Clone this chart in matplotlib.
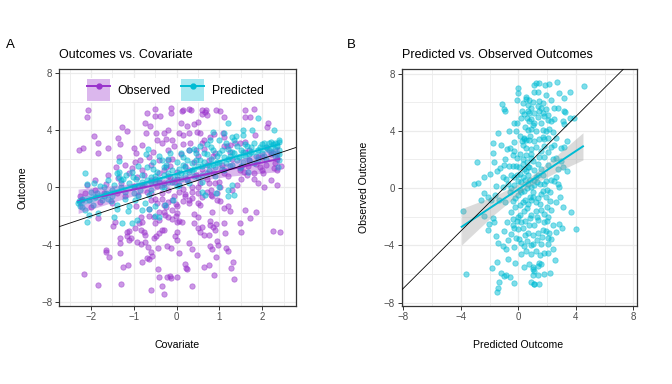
import matplotlib.pyplot as plt
import matplotlib.ticker as ticker
import numpy as np
from matplotlib.lines import Line2D
from matplotlib.patches import Patch
from matplotlib.legend_handler import HandlerTuple

plt.rcParams['font.family'] = ['Liberation Sans', 'DejaVu Sans']

OBS_COL = '#9932CC'
PRED_COL = '#00BCD4'

# ---- panel A: observed outcome vs covariate
obs_pts = [
    (-2.07, 5.42), (-2.09, 4.91), (-0.69, 5.19), (-0.51, 4.96), (-0.38, 5.0), (-0.14, 5.54), (-0.12, 5.19),
    (-0.74, 4.53), (-0.63, 4.30), (-1.27, 4.21), (-1.15, 3.93), (-0.72, 3.79), (-0.48, 3.83), (-0.30, 3.80),
    (-0.20, 4.00), (-1.93, 3.60), (-1.83, 3.09), (-1.36, 3.44), (-1.32, 3.04), (-1.60, 2.74), (-1.83, 2.39),
    (-2.27, 2.62), (-2.18, 2.74), (-1.00, 2.74), (-0.80, 2.97), (-0.94, 2.39), (-1.35, 2.15), (-0.97, 1.80),
    (-1.41, 1.40), (-1.04, 1.33), (-0.93, 0.70), (-1.36, 0.63), (-1.66, 0.23), (-0.45, 3.30), (-0.35, 3.10),
    (-0.25, 3.40), (-0.10, 3.30), (-0.05, 2.90), (-0.20, 2.60), (-0.55, 2.50), (-0.60, 1.60), (-0.40, 1.90),
    (-0.30, 1.20), (-0.15, 1.50), (-0.75, 0.90), (-0.50, 0.60), (-0.20, 0.80), (-0.05, 0.40),
    (-0.50, 5.45), (0.14, 5.42), (0.28, 5.45), (0.60, 5.40), (0.68, 5.44), (1.61, 5.42), (1.81, 5.45),
    (0.12, 5.31), (0.33, 5.38), (0.59, 5.14), (0.66, 5.24), (0.71, 5.07), (0.93, 5.38), (1.02, 5.31),
    (1.11, 4.91), (1.59, 4.91), (1.71, 4.91), (0.10, 4.49), (0.24, 4.30), (0.40, 4.44), (0.51, 4.60),
    (2.13, 4.53), (2.11, 4.21), (0.05, 3.79), (0.16, 3.67), (0.30, 3.79), (0.47, 3.90), (0.55, 3.79),
    (0.88, 3.74), (0.79, 3.55), (1.09, 3.79), (1.10, 3.55), (1.84, 3.67), (0.32, 3.13), (0.59, 3.13),
    (0.63, 3.32), (1.18, 2.90), (1.25, 2.97), (1.37, 3.09), (1.49, 3.13), (1.60, 3.20), (2.11, 2.74),
    (1.68, 1.50), (1.85, 1.65), (1.95, 1.40), (1.49, 1.21), (1.57, 1.09), (1.64, 0.87), (1.80, 0.98),
    (2.03, 0.98), (2.27, 1.33), (2.34, 1.21), (2.45, 1.50), (2.05, 0.00), (2.34, 0.16), (0.75, 0.28),
    (1.02, 0.04),
    (-2.13, -0.40), (-1.83, -2.15), (-1.49, -2.67), (-1.43, -2.39), (-1.15, -3.09), (-1.11, -3.05),
    (-1.07, -3.56), (-1.15, -3.40), (-1.10, -3.70), (-1.31, -3.56), (-1.32, -3.91), (-1.64, -4.38),
    (-1.66, -4.49), (-1.58, -4.84), (-1.31, -4.56), (-1.25, -5.54), (-1.13, -5.43), (-2.16, -6.08),
    (-1.83, -6.83), (-1.29, -6.72), (-0.80, -5.24), (-0.69, -4.91), (-0.65, -5.01), (-0.57, -4.77),
    (-0.43, -5.73), (-0.41, -6.25), (-0.59, -7.14), (-0.34, -6.88), (-0.30, -7.42), (-0.22, -6.25),
    (-0.15, -6.20), (-0.12, -6.30), (-0.92, -3.79), (-0.82, -3.98), (-0.74, -3.84), (-0.66, -4.14),
    (-0.60, -4.50), (-0.43, -4.21), (-0.22, -4.07), (-0.14, -4.20), (0.00, -3.70), (-0.04, -3.40),
    (-0.53, -3.56), (-0.49, -3.37), (-0.41, -3.21), (-0.34, -2.98), (-0.30, -2.98), (-0.96, -2.86),
    (-0.84, -2.98), (-0.76, -3.09), (-0.74, -3.33), (-0.84, -2.04), (-0.80, -2.39), (-0.88, -2.51),
    (-0.65, -2.00), (-0.52, -2.10), (-0.50, -2.50), (-0.40, -2.30), (-0.28, -1.90), (-0.20, -2.10),
    (-0.10, -2.20), (0.00, -2.40), (-0.02, -2.00), (-0.40, -1.70), (-0.30, -1.70), (-0.25, -1.40),
    (-0.10, -1.60), (0.00, -1.80), (-0.60, -0.90), (-0.45, -1.10), (-0.35, -0.80), (-0.20, -1.00),
    (-0.10, -0.85), (-0.02, -1.15),
    (0.16, -0.98), (0.28, -0.87), (0.36, -0.75), (0.51, -1.10), (0.54, -1.22), (0.05, -0.35),
    (0.20, -0.45), (0.36, -0.30), (0.50, -0.40), (0.70, -0.35), (0.80, -0.50), (0.94, -0.40),
    (0.82, -0.63), (0.94, -0.87), (1.02, -0.98), (1.10, -1.45), (1.21, -1.33), (1.24, -1.64),
    (1.60, -1.61), (1.86, -1.75), (0.41, -1.87), (0.51, -2.04), (0.83, -1.75), (1.71, -2.15),
    (1.47, -2.46), (1.51, -3.14), (1.11, -2.46), (1.14, -3.21), (0.05, -2.32), (0.12, -2.39),
    (0.40, -2.51), (0.79, -2.32), (0.79, -2.62), (0.86, -2.74), (0.90, -2.98), (0.93, -2.58),
    (0.01, -3.09), (0.51, -2.86), (0.55, -3.09), (0.59, -2.74), (0.63, -3.33), (0.76, -3.33),
    (2.25, -3.02), (2.42, -3.09), (0.28, -3.91), (0.36, -4.33), (0.47, -4.73), (0.06, -4.61),
    (0.79, -4.07), (0.83, -4.33), (0.94, -3.72), (0.96, -4.03), (1.16, -4.26), (1.19, -4.42),
    (0.93, -4.84), (0.20, -5.38), (0.24, -5.73), (0.22, -5.61), (0.64, -5.54), (0.76, -5.43),
    (1.32, -5.19), (1.28, -5.61), (0.88, -6.13), (1.35, -6.37), (0.01, -6.25), (0.36, -6.88),
    (-0.90, -0.50), (-0.80, 0.20), (-0.70, -0.30), (-0.60, 0.50), (-0.50, -0.80), (-0.45, 0.10),
    (-0.40, 1.00), (-0.35, -0.40), (-0.30, 0.30), (-0.25, 1.40), (-0.20, -0.20), (-0.15, 0.70),
    (-0.10, 2.00), (-0.05, -0.60), (0.00, 1.10), (0.05, 0.20), (0.10, 2.30), (0.15, -0.10),
    (0.20, 1.50), (0.25, 0.60), (0.30, 2.60), (0.35, 0.00), (0.40, 1.80), (0.45, 0.90),
    (0.50, 2.20), (0.55, 0.30), (0.60, 1.30), (0.65, 2.70), (0.70, 0.60), (0.75, 1.90),
    (0.80, -0.20), (0.85, 1.00), (0.90, 2.40), (1.00, 0.40), (1.05, 1.60), (1.10, 2.90),
    (1.20, 0.80), (1.30, 2.00), (1.40, 0.20), (1.50, 1.40), (1.60, 2.50), (1.80, 0.60),
    (1.90, 2.10), (2.00, 1.20), (2.20, 2.30), (2.30, 1.70), (-1.20, -0.60), (-1.30, 0.30),
    (-1.50, -1.10), (-1.70, -0.40), (-1.90, 0.50), (-2.00, -1.40), (-2.20, -0.90), (-1.10, 1.00),
    (-0.95, -1.30), (-0.65, -1.50), (-0.30, -1.20), (0.00, -1.30), (0.30, -1.10), (0.60, -0.70),
    (-2.25, -0.60), (-1.90, -0.20),
    (-0.80, 1.20), (-0.60, -0.40), (-0.40, 0.40), (-0.20, 1.90), (0.00, 0.60), (0.20, -0.60),
    (0.30, 1.20), (0.50, 0.00), (0.70, 1.60), (0.90, 0.30), (1.10, 1.00), (1.30, -0.20),
    (1.50, 0.60), (1.70, 1.90), (1.90, 0.30), (2.10, 1.60), (2.20, 0.50), (2.35, 2.00),
    (-1.00, 0.10), (-1.20, 1.60), (-1.40, -0.40), (-1.60, 0.90), (-1.80, -1.00), (-2.10, 0.20),
    (0.15, 3.00), (0.45, 2.60), (0.85, 2.20), (1.25, 2.50), (1.70, 2.60), (2.00, 2.10),
    (-0.65, 2.10), (-0.85, 1.90),
]

# ---- panel A: predicted outcome vs covariate
pred_pts = [
    (-2.13, 1.03), (-2.09, 0.23), (-1.93, 0.28), (-1.35, 1.87), (-1.35, 1.10), (-0.66, 2.67),
    (-0.72, 2.30), (-1.70, 0.00), (-1.35, 0.70), (1.19, 4.53), (1.90, 4.84), (1.56, 4.02),
    (1.76, 4.02), (2.27, 4.02), (0.86, 3.90), (1.10, 3.83), (1.39, 3.60), (1.56, 3.67),
    (0.79, 3.32), (2.15, 3.09), (2.30, 3.10), (2.40, 3.20),
    (-2.10, -2.39), (-2.05, -1.92), (-1.83, -1.80), (-1.46, -2.04), (-1.27, -2.46), (-1.13, -1.68),
    (-1.04, -2.51), (-0.93, -2.30), (-0.80, -1.57), (-0.65, -1.50), (-0.50, -2.00), (-0.42, -2.10),
    (-1.54, -0.98), (-1.40, -1.20), (-1.10, -1.30), (-0.96, -0.85), (-0.73, -1.10), (-0.50, -1.30),
    (-0.27, -1.20), (-0.08, -0.85), (-2.28, -0.98), (-2.20, -1.40),
    (0.67, -0.52), (0.93, -0.40), (1.21, -0.17), (1.35, -0.52), (1.21, -0.60),
    (-1.40, 0.98), (-1.17, 0.86), (-1.01, 0.74), (1.68, 1.09), (1.49, 1.33), (2.37, 1.45),
    (2.39, 2.30), (1.30, 0.20), (1.00, 0.00), (0.60, -0.30),
    (-2.30, -1.10), (-2.20, -0.80), (-2.15, -1.60), (-2.00, -0.30), (-1.95, -1.20), (-1.90, -0.70),
    (-1.80, 0.10), (-1.75, -0.90), (-1.65, -0.40), (-1.60, 0.50), (-1.50, -0.60), (-1.45, 0.20),
    (-1.40, -1.50), (-1.30, 0.00), (-1.25, 0.60), (-1.20, -0.80), (-1.10, 0.30), (-1.05, 1.10),
    (-1.00, -0.40), (-0.95, 0.60), (-0.90, 1.50), (-0.85, -0.20), (-0.80, 0.90), (-0.75, 0.20),
    (-0.70, 1.40), (-0.65, -0.50), (-0.60, 0.70), (-0.55, 1.80), (-0.50, 0.30), (-0.45, 1.10),
    (-0.40, 2.20), (-0.35, 0.00), (-0.30, 0.90), (-0.25, 1.60), (-0.20, 0.40), (-0.15, 2.40),
    (-0.10, 1.20), (-0.05, 0.60), (0.00, 1.80), (0.05, 0.20), (0.10, 1.00), (0.15, 2.10),
    (0.20, 1.40), (0.25, 0.50), (0.30, 2.60), (0.35, 1.20), (0.40, 0.80), (0.45, 1.90),
    (0.50, 1.50), (0.55, 2.90), (0.60, 0.90), (0.65, 1.80), (0.70, 2.30), (0.75, 1.20),
    (0.80, 2.80), (0.85, 1.60), (0.90, 0.80), (0.95, 2.20), (1.00, 1.70), (1.05, 2.60),
    (1.10, 1.20), (1.15, 3.10), (1.20, 2.00), (1.25, 1.50), (1.30, 2.50), (1.35, 3.30),
    (1.40, 1.90), (1.50, 2.60), (1.55, 1.80), (1.60, 3.00), (1.70, 2.30), (1.75, 2.80),
    (1.80, 1.70), (1.90, 2.60), (2.00, 3.00), (2.05, 2.20), (2.10, 2.80), (2.20, 2.50),
    (2.25, 3.00), (2.30, 2.20), (2.35, 2.90), (2.40, 1.90), (2.40, 3.30),
    (-1.00, 0.00), (-0.90, 0.20), (-0.80, 0.40), (-0.70, 0.50), (-0.60, 0.40), (-0.50, 0.80),
    (-0.40, 0.60), (-0.30, 1.40), (-0.20, 1.00), (-0.10, 0.40), (0.00, 0.90), (0.05, 1.30),
    (0.10, 0.60), (0.15, 1.60), (0.20, 0.90), (0.25, 1.90), (0.30, 1.10), (0.35, 1.70),
    (0.40, 1.30), (0.45, 2.40), (0.50, 0.70), (0.55, 1.90), (0.60, 1.50), (0.65, 2.40),
    (0.70, 1.00), (0.75, 1.60), (0.80, 2.00), (0.85, 2.60), (0.90, 1.40), (0.95, 1.80),
    (1.00, 2.40), (1.05, 1.30), (1.10, 2.10), (1.15, 1.70), (1.20, 2.70), (1.25, 2.20),
    (1.30, 1.60), (1.35, 2.40), (1.40, 2.90), (1.45, 2.10), (1.50, 1.50), (1.55, 2.50),
    (1.60, 2.20), (1.65, 2.90), (1.70, 1.90), (1.75, 2.50), (1.80, 3.10), (1.85, 2.20),
    (1.90, 2.00), (1.95, 2.80), (2.00, 2.40), (2.05, 3.10), (2.10, 2.00), (2.15, 2.60),
    (2.20, 3.20), (2.25, 2.40), (2.30, 2.70), (2.35, 2.30), (2.40, 2.60), (-1.50, -0.20),
    (-1.60, -0.80), (-1.70, -0.60), (-1.85, -0.40), (-2.05, -0.90), (-2.25, -1.30), (-1.20, -0.30),
    (-1.30, 0.50), (-0.90, -0.60), (-0.60, -0.20), (-0.30, 0.00), (0.00, 0.10), (0.30, 0.30),
    (0.60, 0.40), (-0.55, 1.30), (-0.35, 1.90), (-0.20, 2.00), (0.10, 2.40), (0.40, 2.70),
    (0.70, 3.00), (1.00, 3.30), (1.30, 3.50),
]

# fitted lines with confidence band, panel A
fit_x_a = [-2.3, -1.15, 0.05, 1.2, 2.4]
obs_fit = [-0.97, -0.24, 0.51, 1.24, 1.99]
obs_lo = [-1.82, -0.71, 0.27, 0.77, 1.11]
obs_hi = [-0.12, 0.23, 0.75, 1.71, 2.87]
pred_fit = [-1.02, -0.03, 1.00, 1.99, 3.02]
pred_lo = [-1.32, -0.19, 0.91, 1.83, 2.72]
pred_hi = [-0.72, 0.13, 1.09, 2.15, 3.32]

# ---- panel B: observed (y) vs predicted (x)
b_pts = [
    (0.00, 6.98), (0.00, 6.68), (-0.09, 6.18), (-1.16, 5.88), (-1.02, 5.53), (-0.93, 5.37),
    (0.30, 5.95), (0.54, 6.22), (0.77, 6.18), (1.06, 7.21), (0.23, 5.37), (0.42, 5.20),
    (0.65, 5.37), (0.60, 4.90), (0.90, 4.80), (-0.28, 4.56), (-0.09, 4.52), (-0.16, 3.98),
    (0.14, 3.64), (0.37, 3.53), (0.23, 3.29), (0.54, 3.36), (0.83, 3.64), (-1.44, 3.82),
    (-0.67, 3.96), (-0.33, 3.25), (-1.79, 3.13), (-1.20, 2.99), (-0.79, 2.72), (-0.56, 2.77),
    (-0.28, 2.56), (-1.79, 2.44), (-1.72, 1.80), (-1.25, 1.38), (-0.63, 1.56), (-0.40, 1.52),
    (-0.16, 1.56), (0.07, 1.45), (0.30, 1.68), (0.42, 1.33), (0.54, 1.22), (0.65, 1.45),
    (-2.78, 0.35), (-1.55, 0.18), (-1.09, 0.76), (-0.86, 0.64), (-0.51, 0.92), (-0.28, 0.76),
    (1.23, 7.33), (1.46, 7.37), (1.86, 7.21), (2.16, 7.28), (2.66, 7.44), (4.54, 7.14),
    (1.11, 6.75), (1.34, 6.75), (1.93, 6.52), (2.27, 6.18), (2.85, 6.68), (3.15, 6.29),
    (3.62, 6.75), (0.54, 6.40), (1.00, 5.99), (0.65, 5.83), (1.46, 6.06), (1.69, 5.95),
    (1.34, 5.71), (1.58, 5.60), (0.77, 5.26), (1.11, 5.26), (1.46, 5.37), (1.69, 5.26),
    (1.81, 5.02), (2.04, 5.14), (2.50, 5.60), (2.73, 5.60), (3.15, 5.37), (3.25, 5.30),
    (3.62, 4.91), (3.85, 4.91), (0.77, 4.68), (1.11, 4.56), (1.58, 4.56), (2.04, 4.79),
    (2.27, 4.68), (2.50, 4.84), (3.08, 4.68), (3.15, 4.45),
    (0.65, 4.05), (0.88, 4.10), (1.23, 4.00), (1.69, 4.08), (1.93, 4.02), (2.16, 4.10), (2.39, 3.95),
    (0.42, 3.45), (0.77, 3.35), (1.11, 3.30), (1.46, 3.45), (1.81, 3.40), (2.04, 3.50), (2.62, 3.50),
    (3.39, 3.30), (0.54, 2.80), (0.88, 2.70), (1.23, 2.90), (1.81, 2.95), (2.27, 2.85), (2.50, 3.00),
    (2.97, 2.80), (3.20, 2.90), (0.54, 2.30), (0.88, 2.10), (1.46, 2.15), (1.81, 2.20), (2.39, 2.00),
    (2.62, 2.10), (2.97, 1.90), (0.77, 1.50), (1.11, 1.25), (1.58, 1.35), (2.04, 1.60), (2.73, 1.35),
    (3.08, 1.50), (3.39, 1.20), (0.65, 0.90), (1.23, 0.75), (1.69, 0.90), (2.27, 0.60), (2.62, 0.75),
    (1.81, 0.30), (2.73, 0.30), (2.85, 0.10),
    (-3.87, -1.57), (-3.67, -6.00), (-2.37, -0.35), (-1.90, -0.81), (-1.62, -0.46), (-1.32, -0.81),
    (-1.09, 0.11), (-2.37, -1.96), (-1.79, -2.07), (-1.72, -2.35), (-2.02, -2.54), (-2.09, -2.95),
    (-1.55, -3.35), (-1.44, -3.80), (-1.09, -4.04), (-0.86, -4.27), (-0.74, -4.96), (-1.48, -5.15),
    (-1.86, -5.58), (-1.20, -5.95), (-0.97, -6.11), (-0.86, -6.04), (-0.56, -6.22), (-0.33, -6.64),
    (-1.32, -6.57), (-1.39, -6.96), (-1.48, -7.26), (-0.40, -2.19), (-0.09, -2.31), (-0.28, -2.77),
    (-0.05, -2.88), (-0.51, -3.23), (-0.16, -3.46), (0.07, -3.58), (0.19, -3.80), (0.42, -4.04),
    (0.54, -4.38), (0.88, -4.61), (0.77, -5.30), (1.00, -5.65), (0.88, -6.57), (1.06, -6.69),
    (3.66, -1.66), (4.01, -2.88), (2.85, -2.49), (3.01, -2.77), (2.62, -3.04), (2.16, -3.11),
    (2.27, -3.58), (2.09, -3.46), (2.04, -3.92), (2.39, -4.27), (2.55, -5.03), (2.04, -4.54),
    (2.23, -5.95), (1.76, -6.00), (1.34, -6.04), (1.00, -6.07), (1.07, -5.81), (1.11, -6.69),
    (1.46, -6.69), (1.58, -5.30), (1.46, -5.23), (1.34, -5.42), (1.00, -5.49),
    (0.30, -1.00), (0.60, -1.40), (0.90, -0.80), (1.20, -1.60), (1.50, -1.10), (1.80, -1.80),
    (0.10, -1.90), (0.50, -2.30), (0.80, -2.10), (1.10, -2.60), (1.40, -2.20), (1.70, -2.90),
    (0.30, -2.80), (0.70, -3.10), (1.00, -3.30), (1.30, -3.60), (1.60, -3.90), (0.90, -4.00),
    (1.20, -4.40), (1.50, -4.70), (1.80, -4.50), (0.60, -3.70), (-0.20, -1.30), (-0.50, -1.70),
    (-0.80, -2.40), (-1.00, -3.00), (-0.70, -3.60), (-0.30, -4.10), (0.20, -4.60), (-0.20, -5.20),
    (0.40, -5.50), (2.00, -2.30), (2.30, -1.50), (2.60, -1.00), (2.90, -0.60), (3.10, -1.30),
    (2.20, -0.30), (1.90, -0.60),
    (-0.60, -0.30), (-0.30, 0.20), (0.00, -0.50), (0.20, 0.40), (0.40, -0.20), (0.70, 0.30),
    (1.00, -0.30), (1.30, 0.40), (1.60, -0.40), (-0.90, -1.00), (-0.10, 0.90), (0.50, 0.60),
    (0.90, 0.10), (1.40, 0.90), (-0.40, -0.90), (0.10, -0.10), (0.80, -0.60), (1.10, 0.60),
    (2.00, -0.10), (2.50, 0.50), (-2.90, 1.80), (-3.10, 0.30), (-2.00, 1.00), (-2.40, 0.80),
    (-1.50, 1.20), (-2.10, -0.60), (-2.60, -0.80),
    (-0.50, 0.00), (-0.20, -0.70), (0.00, 0.50), (0.10, -1.20), (0.20, -0.30), (0.30, 0.80),
    (0.40, -1.60), (0.50, -0.80), (0.60, 0.00), (0.70, -1.10), (0.80, 0.60), (0.90, -1.90),
    (1.00, -0.60), (1.10, 0.20), (1.20, -1.00), (1.30, -2.00), (1.40, -0.70), (1.50, 0.30),
    (1.60, -1.50), (1.70, -0.20), (1.80, -2.40), (1.90, 0.50), (2.00, -1.30), (2.10, -2.00),
    (2.20, -0.90), (2.40, -2.60), (-0.70, 0.30), (-0.40, -2.60), (0.00, -2.00), (0.20, -2.40),
    (0.45, -3.30), (0.75, -2.60), (1.05, -3.90), (1.35, -3.10), (1.65, -3.40), (1.90, -3.00),
    (0.15, 1.00), (0.35, 2.00), (0.60, 1.80), (0.85, 2.40), (1.05, 1.90), (1.35, 1.70),
    (1.55, 2.60), (1.75, 3.60), (2.10, 2.50), (0.30, 3.00), (0.10, 2.40), (-0.10, 2.10),
    (-0.40, 2.30), (-0.90, 2.00), (-1.00, 1.60), (1.00, 4.40), (0.50, 4.30), (1.40, 5.00),
    (1.90, 5.50), (0.20, 4.90), (0.85, 5.60),
]

fit_x_b = [-3.94, -1.7, 0.5, 2.5, 4.5]
b_fit = [-2.70, -1.21, 0.25, 1.59, 2.92]
b_lo = [-3.97, -1.86, -0.03, 1.04, 1.97]
b_hi = [-1.43, -0.56, 0.53, 2.14, 3.87]

abline_a = 0.0   # intercept of the slope-1 reference line
abline_b = 1.0


def style_axes(ax, xmaj, xmin, ymaj, ymin):
    ax.xaxis.set_major_locator(ticker.MultipleLocator(xmaj))
    ax.xaxis.set_minor_locator(ticker.MultipleLocator(xmin))
    ax.yaxis.set_major_locator(ticker.MultipleLocator(ymaj))
    ax.yaxis.set_minor_locator(ticker.MultipleLocator(ymin))
    ax.grid(which='major', color='#EBEBEB', lw=0.9, zorder=0)
    ax.grid(which='minor', color='#EBEBEB', lw=0.6, zorder=0)
    ax.set_axisbelow(True)
    ax.tick_params(which='major', direction='out', length=3, width=0.7, color='#333333',
                   labelcolor='#4D4D4D', labelsize=7, pad=2)
    ax.tick_params(which='minor', length=0)
    for sp in ax.spines.values():
        sp.set_color('#333333')
        sp.set_linewidth(0.9)


fig = plt.figure(figsize=(6.72, 3.84), dpi=100)
ax_a = fig.add_axes([0.0882, 0.2044, 0.3523, 0.6151])
ax_b = fig.add_axes([0.5978, 0.2044, 0.3497, 0.6151])

# panel A
obs = np.array(obs_pts)
pred = np.array(pred_pts)
ax_a.scatter(obs[:, 0], obs[:, 1], s=15, color=OBS_COL, alpha=0.5, linewidths=0.6, zorder=2)
ax_a.scatter(pred[:, 0], pred[:, 1], s=15, color=PRED_COL, alpha=0.5, linewidths=0.6, zorder=2)
ax_a.fill_between(fit_x_a, obs_lo, obs_hi, color=OBS_COL, alpha=0.35, lw=0, zorder=3)
ax_a.fill_between(fit_x_a, pred_lo, pred_hi, color=PRED_COL, alpha=0.35, lw=0, zorder=3)
ax_a.plot(fit_x_a, obs_fit, color=OBS_COL, lw=1.4, zorder=4)
ax_a.plot(fit_x_a, pred_fit, color=PRED_COL, lw=1.4, zorder=4)
ax_a.axline((0, abline_a), slope=1, color='black', lw=0.6, zorder=5)
ax_a.set_xlim(-2.74, 2.79)
ax_a.set_ylim(-8.25, 8.25)
style_axes(ax_a, 1, 0.5, 4, 2)

h_obs = (Patch(facecolor=OBS_COL, alpha=0.35, edgecolor='none'),
         Line2D([], [], color=OBS_COL, lw=1.4, marker='o', ms=3.5))
h_pred = (Patch(facecolor=PRED_COL, alpha=0.35, edgecolor='none'),
          Line2D([], [], color=PRED_COL, lw=1.4, marker='o', ms=3.5))
ax_a.legend(handles=[h_obs, h_pred], labels=['Observed', 'Predicted'],
            handler_map={tuple: HandlerTuple(ndivide=1, pad=0)}, ncol=2,
            loc='upper center', bbox_to_anchor=(0.49, 0.965), fontsize=8.8,
            handlelength=1.9, handleheight=2.4, handletextpad=0.6, columnspacing=0.85,
            borderpad=0.1, borderaxespad=0, frameon=True, fancybox=False,
            edgecolor='none', facecolor='white', framealpha=1)

# panel B
b = np.array(b_pts)
ax_b.scatter(b[:, 0], b[:, 1], s=15, color=PRED_COL, alpha=0.5, linewidths=0.6, zorder=2)
ax_b.fill_between(fit_x_b, b_lo, b_hi, color='#999999', alpha=0.35, lw=0, zorder=3)
ax_b.plot(fit_x_b, b_fit, color=PRED_COL, lw=1.4, zorder=4)
ax_b.axline((0, abline_b), slope=1, color='black', lw=0.6, zorder=5)
ax_b.set_xlim(-8.11, 8.24)
ax_b.set_ylim(-8.2, 8.3)
style_axes(ax_b, 4, 2, 4, 2)

# text
fig.text(10 / 672, 1 - 48 / 384, 'A', fontsize=9.5, ha='center', va='baseline')
fig.text(351 / 672, 1 - 48 / 384, 'B', fontsize=9.5, ha='center', va='baseline')
fig.text(59.3 / 672, 1 - 58 / 384, 'Outcomes vs. Covariate', fontsize=9, va='baseline')
fig.text(401.7 / 672, 1 - 58 / 384, 'Predicted vs. Observed Outcomes', fontsize=9, va='baseline')
fig.text(176.7 / 672, 1 - 348 / 384, 'Covariate', fontsize=7.6, ha='center', va='baseline')
fig.text(518.5 / 672, 1 - 348 / 384, 'Predicted Outcome', fontsize=7.6, ha='center', va='baseline')
fig.text(22.5 / 672, 1 - 187.5 / 384, 'Outcome', fontsize=7.6, rotation=90, ha='center', va='center')
fig.text(364 / 672, 1 - 187.5 / 384, 'Observed Outcome', fontsize=7.6, rotation=90, ha='center', va='center')

fig.savefig('out.png', dpi=100, facecolor='white')
